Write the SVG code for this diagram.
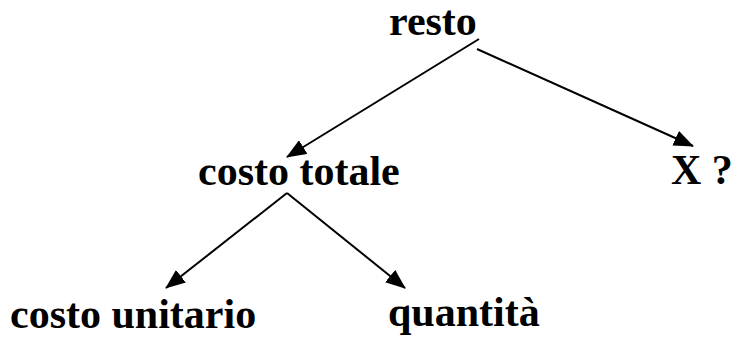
<svg xmlns="http://www.w3.org/2000/svg" width="735" height="340" viewBox="0 0 735 340">
<style>
  .lbl { font-family: "Liberation Serif", "Times New Roman", serif; font-weight: bold; font-size: 42px; fill: #000; }
  .edge { stroke: #000; stroke-width: 2; fill: none; marker-end: url(#arrow); }
</style>
<defs>
  <marker id="arrow" markerUnits="userSpaceOnUse" markerWidth="20" markerHeight="16" refX="19" refY="8" orient="auto">
    <path d="M0,0 L20,8 L0,16 Z" fill="#000"/>
  </marker>
</defs>
<rect width="735" height="340" fill="#fff"/>
<g id="connectors">
  <line class="edge" x1="479" y1="39" x2="287" y2="157"/>
  <line class="edge" x1="477" y1="49" x2="693" y2="146"/>
  <line class="edge" x1="287" y1="193" x2="166" y2="288"/>
  <line class="edge" x1="287" y1="193" x2="405" y2="288"/>
</g>
<g id="resto"><text class="lbl" x="389" y="35">resto</text></g>
<g id="costo-totale"><text class="lbl" x="198" y="185">costo totale</text></g>
<g id="x"><text class="lbl" x="671" y="184">X ?</text></g>
<g id="costo-unitario"><text class="lbl" x="10" y="328">costo unitario</text></g>
<g id="quantita"><text class="lbl" x="388" y="326">quantità</text></g>
</svg>
